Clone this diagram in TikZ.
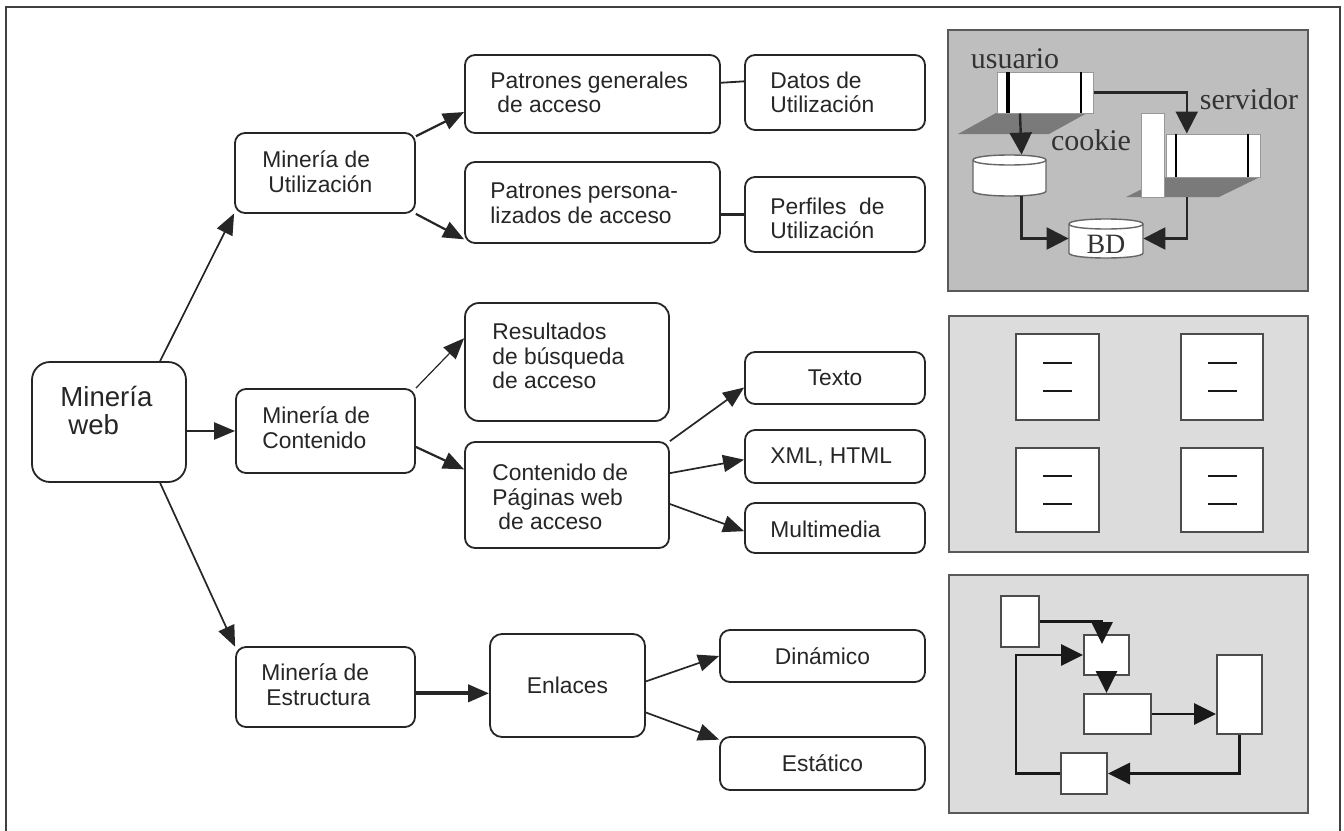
\documentclass[tikz,border=0pt]{standalone}
\usepackage{fontspec}
\setmainfont{Liberation Sans}
\newfontfamily\panelfont{Liberation Serif}
\usetikzlibrary{arrows.meta,fit,calc}
\definecolor{edge}{HTML}{262626}
\definecolor{darkpanel}{HTML}{BEBEBE}
\definecolor{lightpanel}{HTML}{DCDCDC}
\definecolor{shadowgrey}{HTML}{7A7A7A}
% cylinder: x1, x2, top rim line, bottom rim line, rim half-height
\newcommand\drum[5]{%
  \filldraw[drumline] (#1,#3) -- (#1,#4)
    .. controls (#1,#4+1.333*#5) and (#2,#4+1.333*#5) .. (#2,#4)
    -- (#2,#3)
    .. controls (#2,#3-1.333*#5) and (#1,#3-1.333*#5) .. (#1,#3) -- cycle;
  \draw[drumline] (#1,#3) .. controls (#1,#3+1.333*#5) and (#2,#3+1.333*#5) .. (#2,#3);}
\begin{document}
\begin{tikzpicture}[x=0.5pt,y=-0.5pt,
  box/.style={draw=edge, line width=0.9pt, rounded corners=5pt, fill=white, inner sep=0pt},
  lbl/.style={font=\fontsize{11.4}{12.3}\selectfont, align=left, inner sep=0pt, anchor=west, text=black!85},
  clbl/.style={font=\fontsize{11.4}{12.3}\selectfont, inner sep=0pt, text=black!85},
  arr/.style={draw=edge, line width=0.85pt, -{Triangle[length=10.5pt,width=8.5pt]}},
  link/.style={draw=edge, line width=0.9pt},
  panel/.style={draw=black!65, line width=1pt, inner sep=0pt},
  wbox/.style={fill=white, draw=black!40, line width=0.5pt, inner sep=0pt},
  sq/.style={fill=white, draw=black!70, line width=1pt, inner sep=0pt},
  dashline/.style={draw=black!90, line width=1pt},
  drumline/.style={draw=black!60, line width=0.7pt, fill=white},
  parr/.style={draw=black!85, line width=1.2pt, -{Triangle[length=11pt,width=11pt]}},
  qarr/.style={draw=black!90, line width=1.4pt, -{Triangle[length=11pt,width=10.5pt]}},
  ptxt/.style={font=\panelfont\fontsize{15}{16}\selectfont, text=black!80, inner sep=0pt},
]
\useasboundingbox (0,0) rectangle (1344,830);
% outer frame
\draw[black!75, line width=1pt] (6,834) -- (6,7) -- (1340,7) -- (1340,834);

% ---------- tree of boxes ----------
\node[box, rounded corners=9pt, fit={(32,362)(186,482)}] (web) {};
\node[box, fit={(235,133)(415,213)}] (util) {};
\node[box, fit={(236,389)(415,473)}] (cont) {};
\node[box, fit={(236,647)(415,727)}] (estr) {};
\node[box, fit={(465,55)(720,133)}] (pgen) {};
\node[box, fit={(745,55)(925,130)}] (datos) {};
\node[box, fit={(465,162)(720,243)}] (ppers) {};
\node[box, fit={(745,177)(925,252)}] (perf) {};
\node[box, rounded corners=7pt, fit={(465,303)(669,421)}] (res) {};
\node[box, fit={(465,442)(669,548)}] (pag) {};
\node[box, fit={(745,352)(925,404)}] (texto) {};
\node[box, fit={(745,430)(925,483)}] (xml) {};
\node[box, fit={(745,503)(925,553)}] (multi) {};
\node[box, rounded corners=6pt, fit={(490,634)(645,737)}] (enl) {};
\node[box, fit={(720,630)(925,682)}] (din) {};
\node[box, fit={(720,737)(925,790)}] (est) {};

\node[lbl, font=\fontsize{13.8}{14}\selectfont] (webT) at (60,410) {Minería\\\hspace*{4pt}web};
\node[lbl] (utilT) at (262,172) {Minería de\\\hspace*{3pt}Utilización};
\node[lbl] (contT) at (262,428) {Minería de\\Contenido};
\node[lbl] (estrT) at (261,685) {Minería de\\\hspace*{2.5pt}Estructura};
\node[lbl] (pgenT) at (490,92.5) {Patrones generales\\\hspace*{3.5pt}de acceso};
\node[lbl] (datosT) at (770,92.5) {Datos de\\Utilización};
\node[lbl] (ppersT) at (490,203.5) {Patrones persona-\\lizados de acceso};
\node[lbl] (perfT) at (770,218.5) {Perfiles\ \ de\\Utilización};
\node[lbl] (resT) at (492,356) {Resultados\\de búsqueda\\de acceso};
\node[lbl] (pagT) at (492,497) {Contenido de\\Páginas web\\\hspace*{3pt}de acceso};
\node[clbl] (textoT) at (texto) {Texto};
\node[lbl] (xmlT) at (770,457) {XML, HTML};
\node[lbl] (multiT) at (770,529) {Multimedia};
\node[clbl] (enlT) at (enl) {Enlaces};
\node[clbl] (dinT) at (din) {Dinámico};
\node[clbl] (estT) at (est) {Estático};

\draw[arr] (web.50) -- (util.204);
\draw[arr, line width=1.2pt] (web.east |- cont.west) -- (cont.west);
\draw[arr] (web.310) -- (estr.156);
\draw[arr, line width=1.1pt] (util.22) -- (pgen.188);
\draw[arr, line width=1.1pt] (util.south east) -- (ppers.196);
\draw[link] (pgen.5) -- (datos.173);
\draw[link, line width=1.4pt] (ppers.east |- perf.west) -- (perf.west);
\draw[arr, line width=0.6pt] (cont.north east) -- (res.167);
\draw[arr, line width=1.1pt] (cont.350) -- (pag.166);
\draw[arr] (pag.north east) -- (texto.186);
\draw[arr] (pag.12) -- (xml.182);
\draw[arr] (pag.355) -- (multi.182);
\draw[arr, line width=2pt] (estr.-4) -- (estr.-4 -| enl.west);
\draw[arr] (enl.3) -- (din.west);
\draw[arr] (enl.341) -- (est.167);

% ---------- usage panel ----------
\node[panel, fill=darkpanel, fit={(948,30)(1308,291)}] (p1) {};
\fill[shadowgrey] (996,113) -- (1087,113) -- (1049,134) -- (958,134) -- cycle;
\fill[shadowgrey] (1166,177) -- (1260,177) -- (1219,197) -- (1126,197) -- cycle;
\node[wbox, fit={(997,72)(1093,113)}] (ubox) {};
\draw[black, line width=1.6pt] (1008,72) -- (1008,113);
\draw[black, line width=1pt] (1081,72) -- (1081,113);
\node[wbox, fit={(1166,134)(1260,177)}] (srv) {};
\draw[black, line width=1.2pt] (1176,134) -- (1176,177);
\draw[black, line width=1pt] (1248,134) -- (1248,177);
\node[wbox, fit={(1141,113)(1164,197)}] (cookie) {};
\drum{973}{1046}{160}{191}{5}
\node[inner sep=0pt, fit={(973,155)(1046,196)}] (cyl1) {};
\drum{1069}{1143}{224}{253}{5}
\node[inner sep=0pt, fit={(1069,219)(1143,258)}] (bd) {};
\node[ptxt, font=\panelfont\fontsize{14}{15}\selectfont] (bdT) at (1106,244) {BD};
\node[ptxt] (usuT) at (1015,59) {usuario};
\node[ptxt] (srvT) at (1249,99) {servidor};
\node[ptxt] (cookT) at (1091,140) {cookie};
\coordinate (srvfoot) at (1187,197);
\draw[parr] (ubox.220.5) -- (cyl1.60.7);
\draw[parr] (cyl1.-60.7) |- (bd.west);
\draw[parr] (ubox.east) -| (srv.140.4);
\draw[parr] (srvfoot) |- (bd.east);

% ---------- content panel ----------
\node[panel, fill=lightpanel, fit={(949,316)(1308,552)}] (p2) {};
\node[sq, fit={(1016,334)(1099,420)}] (s1) {};
\node[sq, fit={(1181,334)(1263,420)}] (s2) {};
\node[sq, fit={(1016,448)(1099,532)}] (s3) {};
\node[sq, fit={(1181,448)(1263,532)}] (s4) {};
\foreach \s in {s1,s2,s3,s4}
  \draw[dashline] ($(\s.center)+(-14.5,-14)$) -- ++(29,0)
                  ($(\s.center)+(-14.5,14)$) -- ++(29,0);

% ---------- structure panel ----------
\node[panel, fill=lightpanel, fit={(949,575)(1308,813)}] (p3) {};
\node[sq, fit={(1001,596)(1039,647)}] (fa) {};
\node[sq, fit={(1084,635)(1129,675)}] (fb) {};
\node[sq, fit={(1084,694)(1151,734)}] (fc) {};
\node[sq, fit={(1217,655)(1262,734)}] (fd) {};
\node[sq, fit={(1061,753)(1107,794)}] (fe) {};
\draw[qarr, shorten >=-5pt] (fa.east) -| (fb.102.7);
\draw[qarr] (fb.south) -- (fb.south |- fc.north);
\draw[qarr] (fc.east) -- (fc.east -| fd.west);
\draw[qarr, line width=1.8pt] (fd.south) |- (fe.east);
\draw[qarr] (fe.west) -- ++(-44,0) |- (fb.west);
\end{tikzpicture}
\end{document}
